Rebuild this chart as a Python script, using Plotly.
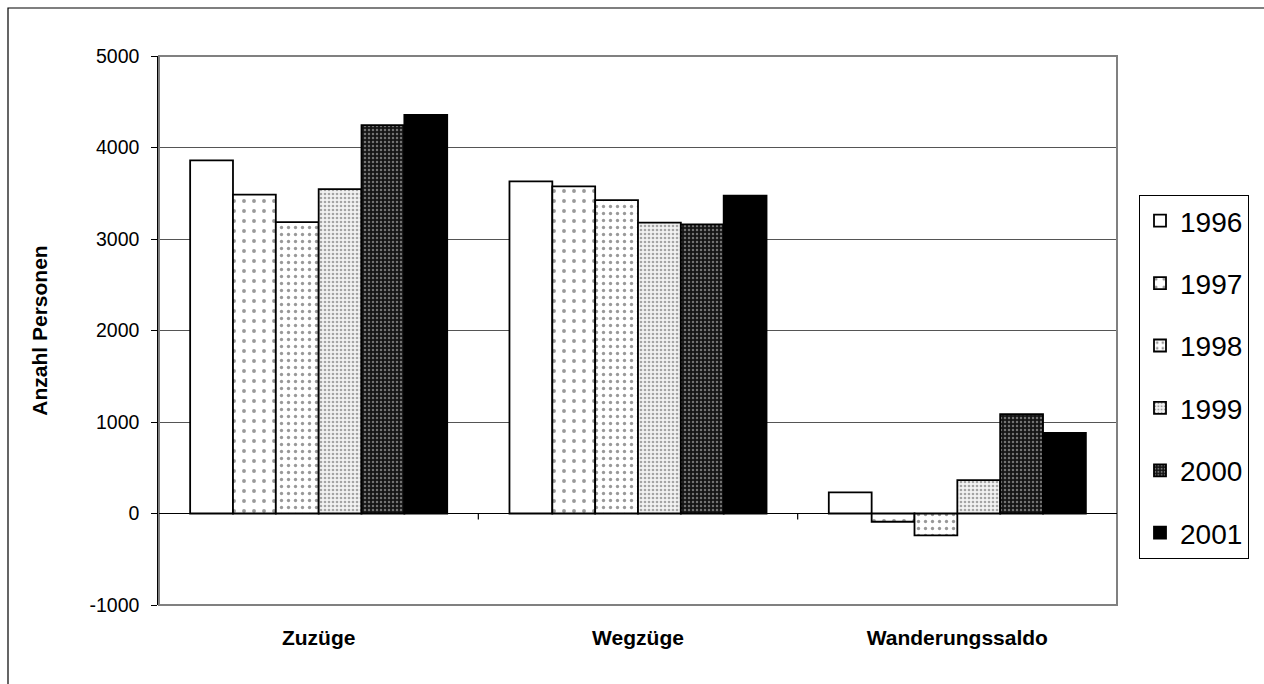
import plotly.graph_objects as go

# Migration data per category and year
categories = ["Zuzüge", "Wegzüge", "Wanderungssaldo"]
years = ["1996", "1997", "1998", "1999", "2000", "2001"]
zuzuege = [3860, 3485, 3185, 3545, 4245, 4355]
wegzuege = [3630, 3575, 3425, 3180, 3160, 3475]
saldo = [230, -90, -240, 365, 1085, 880]
y_ticks = [-1000, 0, 1000, 2000, 3000, 4000, 5000]

values_by_year = [list(v) for v in zip(zuzuege, wegzuege, saldo)]

# Fill styles (pattern) for each year
patterns = [
    dict(shape="", bgcolor="white"),
    dict(shape=".", bgcolor="white", fgcolor="#333", size=10, solidity=0.12),
    dict(shape=".", bgcolor="white", fgcolor="#333", size=7, solidity=0.18),
    dict(shape=".", bgcolor="#f2f2f2", fgcolor="#555", size=4, solidity=0.35),
    dict(shape=".", bgcolor="#151515", fgcolor="#cfcfcf", size=4, solidity=0.3),
    dict(shape="", bgcolor="black"),
]
fill_colors = ["white", "white", "white", "#f2f2f2", "#151515", "black"]

FONT = "Liberation Sans, Arial, sans-serif"

fig = go.Figure()
for i, year in enumerate(years):
    fig.add_trace(go.Bar(
        x=categories,
        y=values_by_year[i],
        name=year,
        legendgroup=year,
        marker=dict(color=fill_colors[i], pattern=patterns[i],
                    line=dict(color="black", width=1.8)),
    ))

W, H = 1264, 684
ml, mr, mt, mb = 159, 147, 56, 79
pw, ph = W - ml - mr, H - mt - mb

shapes = [
    # plot frame
    dict(type="rect", xref="paper", yref="paper", x0=0, x1=1, y0=0, y1=1,
         line=dict(color="#808080", width=2), layer="above"),
    # zero line
    dict(type="line", xref="paper", yref="y", x0=0, x1=1, y0=0, y1=0,
         line=dict(color="black", width=1.2), layer="above"),
    # chart border
    dict(type="rect", xref="paper", yref="paper",
         x0=(8 - ml) / pw, x1=(W + 30 - ml) / pw,
         y0=-(H + 30 - mt - ph) / ph, y1=1 + (mt - 8) / ph,
         line=dict(color="black", width=1.2)),
]
# category separators on the zero line
for k in range(len(categories) - 1):
    shapes.append(dict(type="line", xref="x", yref="y", ysizemode="pixel",
                       yanchor=0, x0=k + 0.5, x1=k + 0.5, y0=0, y1=-6,
                       line=dict(color="black", width=1.2)))

fig.update_layout(
    width=W, height=H,
    margin=dict(l=ml, r=mr, t=mt, b=mb),
    paper_bgcolor="white", plot_bgcolor="white",
    barmode="group", bargap=0.195, bargroupgap=0,
    font=dict(family=FONT, color="black"),
    showlegend=True,
    legend=dict(
        x=(1139 - ml) / pw, y=1 - (195 - mt) / ph,
        xanchor="left", yanchor="top",
        bordercolor="black", borderwidth=1,
        font=dict(size=28, family=FONT),
        tracegroupgap=23,
        itemwidth=30,
    ),
    shapes=shapes,
    xaxis=dict(
        showgrid=False, showline=False, ticks="",
        tickfont=dict(size=21, family=FONT),
        ticklabelstandoff=18,
        tickprefix="<b>", ticksuffix="</b>",
    ),
    yaxis=dict(
        range=[-1000, 5000], tickvals=y_ticks,
        ticktext=[str(v) for v in y_ticks],
        showgrid=True, gridcolor="#555", gridwidth=1,
        zeroline=False,
        showline=True, linecolor="black", linewidth=1.5,
        ticks="outside", ticklen=6, tickcolor="black",
        ticklabelstandoff=8,
        tickfont=dict(size=19.5, family=FONT),
        title=dict(text="<b>Anzahl Personen</b>", font=dict(size=21, family=FONT),
                   standoff=36),
    ),
)

fig.write_html("out.html")
